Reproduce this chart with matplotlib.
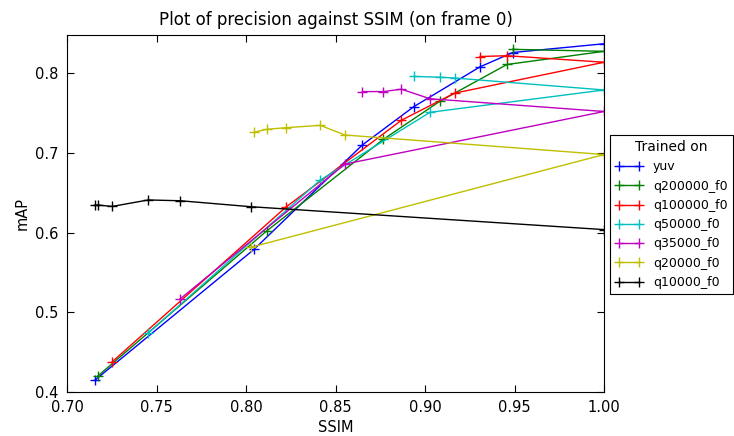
import matplotlib
matplotlib.use("Agg")
import matplotlib.pyplot as plt

series_names = ["yuv", "q200000_f0", "q100000_f0", "q50000_f0", "q35000_f0", "q20000_f0", "q10000_f0"]
series_colors = ["b", "g", "r", "c", "m", "y", "k"]

# test order: yuv, q200000, q100000, q50000, q35000, q20000, q10000
ssim_yuv = [1.0, 0.949, 0.9307, 0.8937, 0.865, 0.8045, 0.7157]
map_yuv = [0.837, 0.826, 0.808, 0.758, 0.710, 0.579, 0.415]

ssim_q200000 = [0.949, 1.0, 0.9458, 0.9084, 0.8767, 0.8115, 0.7172]
map_q200000 = [0.830, 0.8275, 0.811, 0.765, 0.717, 0.602, 0.420]

ssim_q100000 = [0.9307, 0.9458, 1.0, 0.9165, 0.8868, 0.8223, 0.7253]
map_q100000 = [0.821, 0.822, 0.8138, 0.775, 0.741, 0.632, 0.438]

ssim_q50000 = [0.8937, 0.9084, 0.9165, 1.0, 0.9028, 0.8415, 0.7454]
map_q50000 = [0.796, 0.795, 0.794, 0.779, 0.751, 0.666, 0.474]

ssim_q35000 = [0.865, 0.8767, 0.8868, 0.9028, 1.0, 0.8553, 0.7633]
map_q35000 = [0.777, 0.777, 0.780, 0.768, 0.752, 0.686, 0.517]

ssim_q20000 = [0.8045, 0.8115, 0.8223, 0.8415, 0.8553, 1.0, 0.8028]
map_q20000 = [0.726, 0.7296, 0.7317, 0.7346, 0.7225, 0.698, 0.5817]

ssim_q10000 = [0.7157, 0.7172, 0.7253, 0.7454, 0.7633, 0.8028, 1.0]
map_q10000 = [0.6346, 0.6346, 0.6329, 0.641, 0.640, 0.6325, 0.6038]

all_ssim = [ssim_yuv, ssim_q200000, ssim_q100000, ssim_q50000, ssim_q35000, ssim_q20000, ssim_q10000]
all_map = [map_yuv, map_q200000, map_q100000, map_q50000, map_q35000, map_q20000, map_q10000]

fig = plt.figure(figsize=(7.34, 4.36), dpi=100)
ax = fig.add_axes([67/734, 44/436, 537/734, 357/436])

for xs, ys, name, col in zip(all_ssim, all_map, series_names, series_colors):
    ax.plot(xs, ys, color=col, marker="+", markersize=7.5, markeredgewidth=1.0,
            linewidth=1.0, label=name)

ax.set_xlim(0.70, 1.00)
ax.set_ylim(0.40, 0.848)
ax.set_xticks([0.70, 0.75, 0.80, 0.85, 0.90, 0.95, 1.00])
ax.set_xticklabels(["0.70", "0.75", "0.80", "0.85", "0.90", "0.95", "1.00"])
ax.set_yticks([0.4, 0.5, 0.6, 0.7, 0.8])
ax.set_yticklabels(["0.4", "0.5", "0.6", "0.7", "0.8"])
ax.tick_params(direction="in", top=True, right=True, length=5, labelsize=10.5)
ax.tick_params(axis="x", pad=6)
ax.tick_params(axis="y", pad=6)
ax.set_xlabel("SSIM", fontsize=10.5, labelpad=3)
ax.set_ylabel("mAP", fontsize=10.5)
ax.set_title("Plot of precision against SSIM (on frame 0)", fontsize=12, pad=7)

leg = ax.legend(title="Trained on", loc="center left", bbox_to_anchor=(1.012, 0.497),
                fontsize=9, title_fontsize=10, numpoints=2, fancybox=False,
                framealpha=1, edgecolor="black", handlelength=2.2,
                borderaxespad=0)
leg.get_frame().set_linewidth(0.8)

fig.savefig("out.png", dpi=100)
